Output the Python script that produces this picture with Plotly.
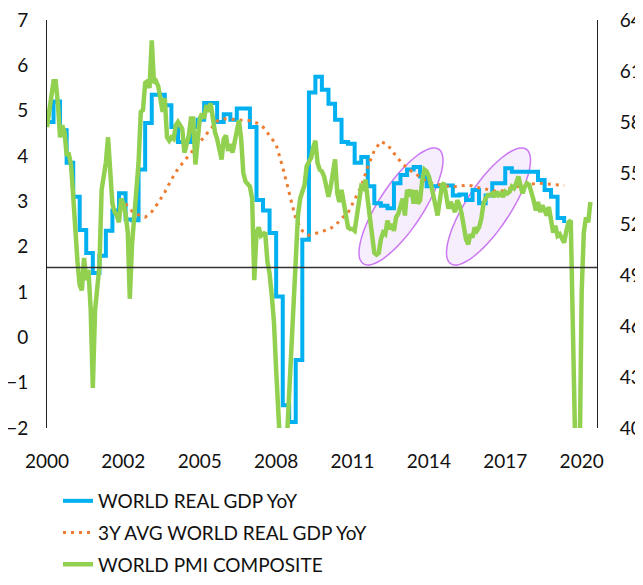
import numpy as np
import pandas as pd
import plotly.graph_objects as go

# World real GDP YoY (%), quarterly, 2000Q1 - 2019Q4
gdp_yoy = [
    4.75, 5.2, 4.57, 3.85, 3.1, 2.37, 1.86, 1.42, 1.8, 2.35,
    2.8, 3.18, 2.6, 2.58, 3.7, 4.73, 5.35, 5.35, 5.12, 4.64,
    4.31, 4.31, 4.64, 4.8, 5.17, 5.17, 4.75, 4.92, 4.8, 5.05,
    5.05, 4.64, 3.03, 2.8, 2.3, 0.9, -1.5, -1.87, -0.5, 2.15,
    5.4, 5.75, 5.46, 5.15, 4.8, 4.31, 4.27, 3.85, 3.98, 3.33,
    2.96, 2.9, 2.85, 3.4, 3.58, 3.7, 3.76, 3.55, 3.33, 3.33,
    3.35, 3.35, 3.13, 3.15, 3.03, 3.25, 2.96, 3.13, 3.4, 3.4,
    3.73, 3.65, 3.65, 3.65, 3.65, 3.47, 3.25, 3.1, 2.63, 2.52,
]

# 3Y average of world real GDP YoY (%), quarterly, 2003Q1 - 2019Q4
gdp_3y_avg = [
    2.95, 2.78, 2.7, 2.65, 2.77, 2.97, 3.2, 3.48, 3.72, 3.89,
    4.07, 4.24, 4.42, 4.6, 4.77, 4.82, 4.81, 4.8, 4.8, 4.78,
    4.73, 4.64, 4.45, 4.25, 3.75, 3.2, 2.62, 2.35, 2.25, 2.29,
    2.33, 2.38, 2.46, 2.62, 2.75, 3.05, 3.33, 3.76, 4.12, 4.32,
    4.25, 4.06, 3.88, 3.73, 3.63, 3.52, 3.44, 3.39, 3.36, 3.34,
    3.32, 3.33, 3.36, 3.34, 3.3, 3.27, 3.25, 3.21, 3.25, 3.3,
    3.33, 3.36, 3.38, 3.4, 3.39, 3.38, 3.36, 3.35,
]

# World PMI composite, monthly, Jan 2000 - Oct 2020
pmi = [
    57.7, 58.8, 59.8, 60.4, 60.4, 59.1, 57.1, 57.8, 57.4, 56.1, 56.1, 55.5,
    53.6, 51.1, 49.8, 48.4, 48.1, 50.0, 48.7, 49.3, 47.0, 42.35, 46.9, 48.2,
    49.5, 54.0, 54.8, 55.6, 57.1, 55.0, 53.2, 52.7, 52.5, 52.1, 53.5, 53.2,
    52.6, 51.5, 47.6, 50.8, 52.5, 53.8, 55.6, 58.6, 58.7, 60.3, 60.4, 60.0,
    62.8, 60.3, 60.4, 60.1, 59.3, 58.6, 59.4, 57.1, 56.9, 57.1, 57.0, 57.8,
    58.0, 57.8, 57.6, 56.2, 56.8, 57.2, 58.2, 58.2, 55.5, 57.2, 58.2, 58.5,
    58.2, 59.0, 58.6, 59.1, 58.1, 57.4, 57.0, 56.4, 55.8, 57.0, 57.2, 56.3,
    56.7, 56.2, 56.8, 57.5, 58.1, 57.0, 55.0, 54.5, 54.3, 54.2, 53.5, 48.7,
    51.5, 51.8, 51.3, 51.4, 51.5, 49.8, 49.1, 47.8, 46.2, 43.4, 40.9, 37.5,
    36.0, 37.0, 39.5, 42.8, 45.6, 48.2, 50.6, 52.5, 53.5, 53.9, 54.3, 55.4,
    55.6, 55.9, 56.5, 56.9, 55.6, 55.2, 55.1, 54.8, 54.2, 53.6, 54.2, 55.0,
    55.8, 53.8, 53.3, 54.0, 53.2, 52.4, 51.8, 51.7, 51.7, 51.6, 52.6, 53.7,
    54.2, 54.1, 54.6, 53.4, 52.4, 51.2, 50.3, 50.2, 50.3, 51.1, 51.5, 51.4,
    52.2, 51.7, 52.0, 51.6, 52.4, 52.6, 53.0, 53.5, 52.5, 54.0, 53.8, 54.0,
    53.2, 54.0, 53.2, 53.4, 54.6, 55.2, 55.1, 54.8, 54.3, 53.6, 52.9, 52.5,
    53.4, 54.3, 54.4, 53.5, 52.9, 53.3, 53.0, 52.7, 53.4, 53.1, 52.6, 51.9,
    51.1, 50.8, 51.4, 51.2, 51.8, 51.6, 51.8, 52.3, 53.2, 53.5, 53.7, 53.7,
    53.8, 53.6, 53.9, 53.7, 53.8, 53.6, 53.9, 53.8, 53.9, 54.2, 54.1, 54.4,
    54.8, 54.2, 53.8, 54.2, 54.4, 54.3, 53.9, 53.4, 52.8, 53.3, 52.7, 53.1,
    52.8, 52.5, 53.0, 52.0, 51.5, 51.9, 51.3, 51.4, 51.1, 50.9, 51.6, 52.1,
    52.2, 46.1, 39.4, 26.2, 36.3, 48.0, 51.5, 52.4, 52.1, 53.3,
]

reference_level = 1.54  # horizontal reference line on the left axis

gdp_dates = pd.date_range("2000-01-01", periods=len(gdp_yoy), freq="QS")
avg_dates = pd.date_range("2003-01-01", periods=len(gdp_3y_avg), freq="QS")
pmi_dates = pd.date_range("2000-01-01", periods=len(pmi), freq="MS")

FONT = "Lato, 'Open Sans', sans-serif"

# page body adds an 8px margin, so the figure is drawn 8px smaller/shifted
PAD = 8
W, H = 643 - PAD, 585 - PAD
L, R, T, B = 47 - PAD, 597 - PAD, 20 - PAD, 428 - PAD

# 1. Traces
fig = go.Figure()
fig.add_trace(go.Scatter(
    x=gdp_dates, y=gdp_yoy, name="WORLD REAL GDP YoY", mode="lines",
    line=dict(color="#00B0F0", width=4, shape="hv"), legendgroup="a",
))
fig.add_trace(go.Scatter(
    x=avg_dates, y=gdp_3y_avg, name="3Y AVG WORLD REAL GDP YoY", mode="lines",
    line=dict(color="#ED7D31", width=3, dash="3px,5px"), legendgroup="b",
))
fig.add_trace(go.Scatter(
    x=pmi_dates, y=pmi, name="WORLD PMI COMPOSITE", mode="lines",
    line=dict(color="#92D050", width=4.5), yaxis="y2", legendgroup="c",
))


# 2. Highlight ellipses (drawn in pixel space, converted to paper coords)
def ellipse_path(cx, cy, a, b, angle_deg, n=80):
    t = np.linspace(0, 2 * np.pi, n)
    th = np.radians(angle_deg)
    px = cx + a * np.cos(t) * np.cos(th) - b * np.sin(t) * np.sin(th)
    py = cy - (a * np.cos(t) * np.sin(th) + b * np.sin(t) * np.cos(th))
    xs = (px - L) / (R - L)
    ys = 1 - (py - T) / (B - T)
    pts = [f"{x:.4f},{y:.4f}" for x, y in zip(xs, ys)]
    return "M" + " L".join(pts) + " Z"


shapes = []
for cx in (401 - PAD, 488.5 - PAD):
    shapes.append(dict(
        type="path", xref="paper", yref="paper", layer="below",
        path=ellipse_path(cx, 206.5 - PAD, 68.6, 22, 56.6),
        line=dict(color="#CC77F2", width=1.5),
        fillcolor="rgba(225,200,250,0.3)",
    ))
shapes.append(dict(
    type="line", xref="paper", yref="y", x0=0, x1=1,
    y0=reference_level, y1=reference_level,
    line=dict(color="#333333", width=1.5),
))

# 3. Layout
fig.update_layout(
    width=W, height=H,
    margin=dict(l=L, r=W - R, t=T, b=H - B, autoexpand=False),
    plot_bgcolor="white", paper_bgcolor="white",
    font=dict(family=FONT, size=19, color="#111111"),
    shapes=shapes,
    showlegend=True,
    legend=dict(
        x=0.02, y=-(H - B - 1) / (B - T), xanchor="left", yanchor="bottom",
        traceorder="grouped", tracegroupgap=4,
        font=dict(family=FONT, size=19, color="#111111"),
        bgcolor="rgba(0,0,0,0)",
    ),
    xaxis=dict(
        type="date", range=["2000-01-01", "2021-01-01"],
        tick0="2000-01-01", dtick="M35", tickformat="%Y",
        showgrid=False, zeroline=False, showline=False, ticks="",
        ticklabelstandoff=20, automargin=False, ticklabeloverflow="allow",
    ),
    yaxis=dict(
        range=[-2, 7], dtick=1, showgrid=False, zeroline=False,
        showline=True, linecolor="#222222", linewidth=1, ticks="",
        ticklabelstandoff=14, automargin=False, ticklabeloverflow="allow",
    ),
    yaxis2=dict(
        range=[40, 64], tick0=40, dtick=3, overlaying="y", side="right",
        showgrid=False, zeroline=False, showline=True,
        linecolor="#222222", linewidth=1, ticks="",
        ticklabelstandoff=18, automargin=False, ticklabeloverflow="allow",
    ),
)

fig.write_html("out.html")
